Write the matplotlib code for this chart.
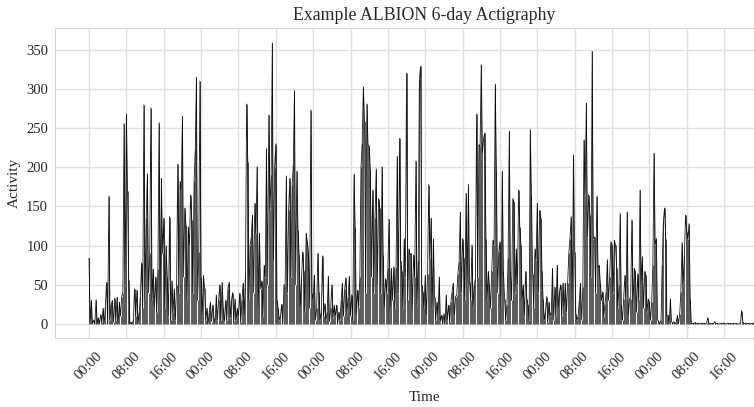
"""Example ALBION 6-day actigraphy trace (15-minute activity counts)."""

import matplotlib
matplotlib.use("Agg")
import matplotlib.pyplot as plt
import numpy as np
import seaborn as sns

# activity counts, 15-minute samples, one list per day starting at 00:00
day1 = [
    84, 0, 30, 0,  5, 0, 31, 0,  8, 0, 12, 3,  20, 0, 22, 53,
    0, 163, 5, 25,  30, 2, 33, 5,  34, 0, 28, 10,  35, 40, 256, 50,
    268, 170, 56, 0,  2, 0, 5, 45,  10, 43, 0, 15,  35, 78, 20, 280,
    30, 135, 192, 40,  90, 276, 30, 70,  20, 60, 15, 70,  257, 30, 186, 90,
    135, 20, 100, 60,  10, 137, 5, 55,  15, 45, 5, 50,  204, 40, 182, 171,
    265, 60, 148, 126,  30, 124, 100, 165,  133, 40, 182, 222,  315, 30, 92, 310,
]
day2 = [
    60, 10, 62, 46,  5, 20, 0, 15,  28, 3, 24, 8,  0, 37, 5, 30,
    50, 5, 53, 20,  3, 30, 5, 45,  53, 8, 30, 40,  2, 32, 5, 20,
    10, 39, 3, 30,  52, 10, 64, 281,  207, 30, 100, 111,  139, 40, 154, 116,
    201, 20, 116, 45,  55, 10, 75, 60,  224, 50, 267, 145,  190, 359, 80, 199,
    230, 30, 20, 5,  10, 25, 0, 50,  50, 189, 40, 145,  186, 60, 178, 203,
    298, 50, 195, 120,  88, 20, 58, 92,  67, 15, 116, 105,  92, 20, 273, 40,
]
day3 = [
    30, 62, 5, 20,  90, 41, 5, 15,  87, 10, 26, 5,  15, 61, 3, 20,
    50, 8, 24, 10,  24, 0, 15, 5,  30, 52, 10, 44,  59, 15, 35, 61,
    10, 37, 5, 191,  124, 10, 43, 20,  60, 201, 231, 303,  259, 40, 281, 229,
    227, 197, 60, 171,  40, 135, 198, 50,  160, 148, 40, 201,  88, 20, 58, 40,
    71, 134, 15, 71,  30, 73, 20, 71,  214, 40, 237, 80,  67, 20, 109, 60,
    320, 30, 96, 88,  90, 20, 88, 60,  208, 24, 80, 312,  329, 50, 41, 20,
]
day4 = [
    62, 10, 64, 178,  84, 135, 20, 109,  35, 5, 28, 10,  60, 3, 11, 0,
    13, 0, 37, 5,  24, 3, 28, 41,  52, 10, 35, 37,  64, 79, 143, 40,
    109, 84, 30, 167,  50, 178, 54, 30,  101, 20, 50, 58,  268, 60, 229, 227,
    331, 218, 237, 244,  109, 30, 67, 50,  20, 67, 107, 101,  306, 195, 40, 92,
    105, 20, 195, 67,  32, 5, 24, 84,  246, 67, 30, 160,  156, 40, 96, 50,
    171, 124, 101, 30,  50, 10, 67, 32,  24, 5, 248, 165,  64, 20, 96, 82,
]
day5 = [
    154, 40, 145, 135,  67, 32, 5, 15,  35, 3, 28, 10,  15, 71, 5, 47,
    10, 75, 20, 41,  50, 10, 52, 20,  52, 15, 52, 90,  109, 137, 30, 216,
    92, 13, 5, 10,  30, 52, 5, 47,  235, 165, 282, 111,  165, 139, 60, 348,
    109, 111, 40, 163,  71, 75, 52, 30,  41, 10, 26, 41,  82, 30, 60, 105,
    101, 40, 107, 101,  71, 20, 50, 141,  24, 5, 32, 62,  30, 143, 10, 32,
    32, 133, 20, 71,  67, 15, 64, 30,  171, 50, 86, 20,  67, 62, 15, 32,
]
day6 = [
    28, 5, 28, 75,  218, 101, 109, 5,  3, 0, 5, 75,  131, 148, 109, 10,
    11, 0, 32, 3,  0, 3, 0, 2,  11, 0, 13, 41,  104, 50, 88, 139,
    118, 109, 128, 32,  0, 1, 0, 2,  0, 1, 1, 0,  1, 1, 0, 1,
    0, 1, 8, 0,  1, 0, 1, 0,  3, 0, 1, 0,  0, 1, 0, 1,
    1, 0, 0, 1,  0, 1, 0, 0,  1, 0, 1, 0,  0, 0, 1, 17,
    3, 0, 1, 1,  0, 1, 0, 0,  1, 1, 0, 1,  0, 1, 0, 0,
]

tick_hours = list(range(0, 137, 8))
tick_labels = ["00:00", "08:00", "16:00"] * 6

sns.set_style("whitegrid")
plt.rcParams["font.family"] = ["Liberation Serif", "DejaVu Serif"]

activity = np.array(day1 + day2 + day3 + day4 + day5 + day6, dtype=float)
hours = np.arange(len(activity)) * 0.25

fig = plt.figure(figsize=(7.54, 4.07), dpi=100)
ax = fig.add_axes([0.073, 0.1695, 0.935, 0.7617])
# thin strokes from zero give the dense look of the minute-level trace
ax.vlines(hours, 0, activity, color="black", linewidth=0.7, alpha=0.65)
ax.plot(hours, activity, color="black", linewidth=0.6, alpha=0.9)

ax.set_xlim(-7.28, 143.7)
ax.set_ylim(-18, 378)
ax.set_yticks(range(0, 351, 50))
ax.set_xticks(tick_hours)
ax.set_xticklabels(tick_labels, rotation=45)
ax.tick_params(axis="both", labelsize=10.5, length=0)
ax.tick_params(axis="x", pad=8)
ax.tick_params(axis="y", pad=5)

ax.set_title("Example ALBION 6-day Actigraphy", fontsize=12.8, x=0.523)
ax.set_xlabel("Time", fontsize=11)
ax.set_ylabel("Activity", fontsize=11)
ax.xaxis.set_label_coords(0.524, -0.17)

for side in ("left", "bottom", "top", "right"):
    ax.spines[side].set_color("#d6d6d6")
ax.grid(color="#e0e0e0", linewidth=1)

fig.savefig("out.png", dpi=100)
